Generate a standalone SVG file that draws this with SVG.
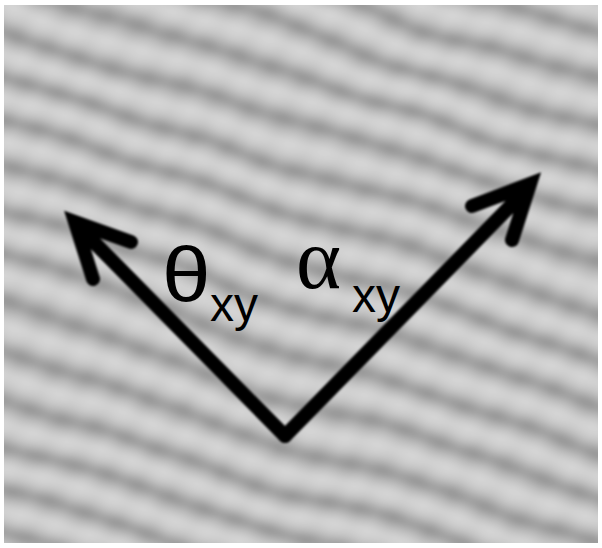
<svg xmlns="http://www.w3.org/2000/svg" width="602" height="548" viewBox="0 0 602 548">
  <defs>
    <linearGradient id="band" x1="0" y1="0" x2="0" y2="1">
      <stop offset="0" stop-color="#d4d4d4"/>
      <stop offset="0.25" stop-color="#c6c6c6"/>
      <stop offset="0.55" stop-color="#8c8c8c"/>
      <stop offset="0.8" stop-color="#bcbcbc"/>
      <stop offset="1" stop-color="#d4d4d4"/>
    </linearGradient>
    <pattern id="stripes" patternUnits="userSpaceOnUse" width="1400" height="44" patternTransform="rotate(18)">
      <rect x="0" y="0" width="1400" height="44" fill="url(#band)"/>
    </pattern>
    <linearGradient id="band2" x1="0" y1="0" x2="0" y2="1">
      <stop offset="0" stop-color="#ffffff" stop-opacity="0"/>
      <stop offset="0.5" stop-color="#ffffff" stop-opacity="1"/>
      <stop offset="1" stop-color="#ffffff" stop-opacity="0"/>
    </linearGradient>
    <pattern id="cross" patternUnits="userSpaceOnUse" width="1400" height="34" patternTransform="rotate(-58)">
      <rect x="0" y="0" width="1400" height="34" fill="url(#band2)"/>
    </pattern>
    <filter id="wobble" x="-10%" y="-10%" width="120%" height="120%">
      <feTurbulence type="fractalNoise" baseFrequency="0.006" numOctaves="2" seed="5" result="n"/>
      <feDisplacementMap in="SourceGraphic" in2="n" scale="24" xChannelSelector="R" yChannelSelector="G" result="d"/>
      <feGaussianBlur in="d" stdDeviation="3.5"/>
    </filter>
    <filter id="soft" x="-10%" y="-10%" width="120%" height="120%">
      <feGaussianBlur stdDeviation="0.8"/>
    </filter>
    <clipPath id="frame">
      <rect x="4" y="5" width="594" height="538"/>
    </clipPath>
    <style>
      .arrow { fill: none; stroke: #000; stroke-width: 14; stroke-linecap: round; stroke-linejoin: miter; stroke-miterlimit: 10; }
      .sans { font-family: "Liberation Sans", Arial, sans-serif; fill: #000; }
      .serif { font-family: "Liberation Serif", "Times New Roman", serif; fill: #000; }
    </style>
  </defs>

  <rect x="0" y="0" width="602" height="548" fill="#ffffff"/>

  <g id="background" clip-path="url(#frame)">
    <g filter="url(#wobble)">
      <rect x="-60" y="-60" width="722" height="668" fill="url(#stripes)"/>
      <rect x="-60" y="-60" width="722" height="668" fill="url(#cross)" opacity="0.12"/>
    </g>
  </g>

  <g id="connectors" filter="url(#soft)">
    <path id="theta-arrow" class="arrow" d="M285,436 L79,227 M131,242 L75,222 L93,279"/>
    <path id="alpha-arrow" class="arrow" d="M285,436 L526,190 M472,206 L530,184 L512,240"/>
  </g>

  <g id="label-theta">
    <text class="sans" x="162" y="302" font-size="78" transform="translate(162 302) scale(1.12 1) translate(-162 -302)">θ</text>
    <text class="sans" x="210" y="321" font-size="48">xy</text>
  </g>
  <g id="label-alpha">
    <text class="serif" x="296" y="288" font-size="86">α</text>
    <text class="sans" x="352" y="312" font-size="48">xy</text>
  </g>
</svg>
